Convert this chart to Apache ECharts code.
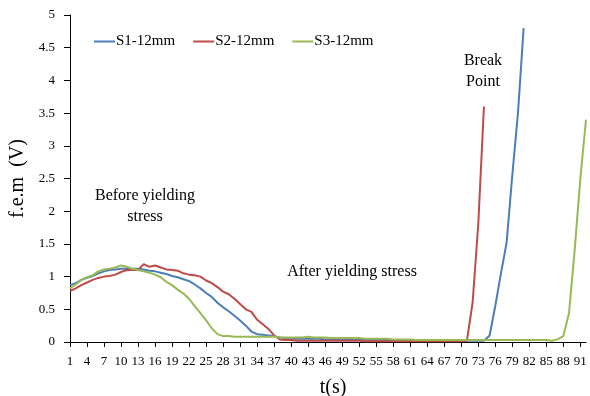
<!DOCTYPE html>
<html>
<head>
<meta charset="utf-8">
<script src="https://cdn.jsdelivr.net/npm/echarts@6/dist/echarts.min.js"></script>
<style>
  html, body { margin: 0; padding: 0; background: #fff; }
  #chart { width: 590px; height: 396px; }
</style>
</head>
<body>
<div id="chart"></div>
<script>
// time axis categories, 1..92 s
const tLabels = Array.from({ length: 92 }, (_, i) => String(i + 1))

const s1 = [
  0.87, 0.90, 0.95, 0.98, 1.01, 1.05, 1.08, 1.10, 1.11, 1.12,
  1.12, 1.12, 1.12, 1.11, 1.09, 1.08, 1.06, 1.04, 1.01, 0.99,
  0.96, 0.93, 0.88, 0.82, 0.75, 0.69, 0.60, 0.53, 0.47, 0.40,
  0.33, 0.25, 0.16, 0.12, 0.11, 0.10, 0.09, 0.07, 0.06, 0.05,
  0.05, 0.05, 0.05, 0.05, 0.05, 0.04, 0.04, 0.04, 0.04, 0.04,
  0.04, 0.04, 0.03, 0.03, 0.03, 0.03, 0.03, 0.03, 0.03, 0.02,
  0.02, 0.02, 0.02, 0.02, 0.02, 0.02, 0.02, 0.02, 0.02, 0.02,
  0.02, 0.02, 0.02, 0.02, 0.10, 0.55, 1.05, 1.52, 2.55, 3.50,
  4.80
]
const s2 = [
  0.78, 0.82, 0.87, 0.91, 0.95, 0.98, 1.00, 1.01, 1.03, 1.07,
  1.10, 1.10, 1.10, 1.19, 1.15, 1.17, 1.14, 1.11, 1.10, 1.09,
  1.05, 1.03, 1.02, 1.00, 0.94, 0.90, 0.84, 0.77, 0.73, 0.66,
  0.58, 0.50, 0.46, 0.34, 0.27, 0.20, 0.10, 0.04, 0.03, 0.03,
  0.02, 0.02, 0.02, 0.02, 0.02, 0.02, 0.02, 0.02, 0.02, 0.02,
  0.02, 0.02, 0.01, 0.01, 0.01, 0.01, 0.01, 0.01, 0.01, 0.01,
  0.01, 0.01, 0.01, 0.01, 0.01, 0.01, 0.01, 0.01, 0.01, 0.01,
  0.02, 0.60, 1.80, 3.60
]
const s3 = [
  0.82, 0.88, 0.95, 0.99, 1.02, 1.08, 1.11, 1.12, 1.14, 1.17,
  1.15, 1.12, 1.10, 1.08, 1.06, 1.03, 0.99, 0.92, 0.87, 0.80,
  0.74, 0.66, 0.55, 0.44, 0.33, 0.21, 0.12, 0.09, 0.09, 0.08,
  0.08, 0.08, 0.08, 0.08, 0.08, 0.08, 0.08, 0.07, 0.07, 0.07,
  0.07, 0.07, 0.08, 0.07, 0.07, 0.07, 0.06, 0.06, 0.06, 0.06,
  0.06, 0.06, 0.05, 0.05, 0.05, 0.05, 0.05, 0.04, 0.04, 0.04,
  0.04, 0.03, 0.03, 0.03, 0.03, 0.03, 0.03, 0.03, 0.03, 0.03,
  0.03, 0.03, 0.03, 0.03, 0.03, 0.03, 0.03, 0.03, 0.03, 0.03,
  0.03, 0.03, 0.03, 0.03, 0.03, 0.02, 0.04, 0.09, 0.44, 1.40,
  2.50, 3.40
]

const seriesNames = ['S1-12mm', 'S2-12mm', 'S3-12mm']
const seriesColors = ['#4A7EBB', '#BE4B48', '#98B954']

const serif = '"Liberation Serif", "DejaVu Serif", serif'

const chart = echarts.init(document.getElementById('chart'))

const lineSeries = [s1, s2, s3].map((values, i) => ({
  name: seriesNames[i],
  type: 'line',
  data: values,
  symbol: 'none',
  smooth: false,
  lineStyle: { width: 2, color: seriesColors[i] },
  itemStyle: { color: seriesColors[i] },
}))

chart.setOption({
  animation: false,
  backgroundColor: '#fff',
  textStyle: { fontFamily: serif, color: '#000' },
  grid: { left: 70, right: 4, top: 15, bottom: 54, outerBoundsMode: 'none', containLabel: false },
  legend: {
    left: 89,
    top: 29,
    icon: 'rect',
    itemWidth: 21,
    itemHeight: 2,
    itemGap: 18,
    textStyle: { fontFamily: serif, fontSize: 15, color: '#000', padding: [0, 0, 0, -4] },
    data: seriesNames,
  },
  xAxis: {
    type: 'category',
    data: tLabels,
    boundaryGap: false,
    name: 't(s)',
    nameLocation: 'middle',
    nameGap: 36,
    nameTextStyle: { fontFamily: serif, fontSize: 20, color: '#000', padding: [0, 0, 0, 10] },
    axisLine: { lineStyle: { color: '#000', width: 1 } },
    axisTick: { interval: 2, length: 5, lineStyle: { color: '#000' } },
    axisLabel: { interval: 2, margin: 13, fontFamily: serif, fontSize: 13, color: '#000' },
    splitLine: { show: false },
  },
  yAxis: {
    type: 'value',
    min: 0,
    max: 5,
    interval: 0.5,
    name: 'f.e.m  (V)',
    nameLocation: 'middle',
    nameGap: 36,
    nameTextStyle: { fontFamily: serif, fontSize: 20, color: '#000' },
    axisLine: { show: true, lineStyle: { color: '#000', width: 1 } },
    axisTick: { show: true, length: 6, lineStyle: { color: '#000' } },
    axisLabel: { margin: 15, fontFamily: serif, fontSize: 13, color: '#000' },
    splitLine: { show: false },
  },
  graphic: [
    {
      type: 'text', x: 145, y: 206, z: 10,
      style: { text: 'Before yielding\nstress', font: '16px ' + serif, fill: '#000', textAlign: 'center', textVerticalAlign: 'middle', lineHeight: 21 },
    },
    {
      type: 'text', x: 352, y: 272, z: 10,
      style: { text: 'After yielding stress', font: '16px ' + serif, fill: '#000', textAlign: 'center', textVerticalAlign: 'middle' },
    },
    {
      type: 'text', x: 483, y: 71, z: 10,
      style: { text: 'Break\nPoint', font: '16px ' + serif, fill: '#000', textAlign: 'center', textVerticalAlign: 'middle', lineHeight: 21 },
    },
  ],
  series: lineSeries,
})
</script>
</body>
</html>
